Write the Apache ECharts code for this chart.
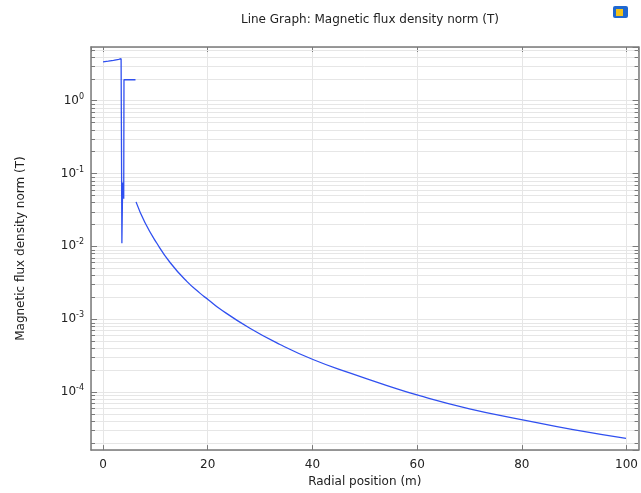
<!DOCTYPE html>
<html>
<head>
<meta charset="utf-8">
<script src="https://cdn.jsdelivr.net/npm/echarts@6/dist/echarts.min.js"></script>
<style>
  html, body { margin: 0; padding: 0; background: #fff; }
  #chart { width: 641px; height: 493px; }
</style>
</head>
<body>
<div id="chart"></div>
<script>
// radial position (m) / magnetic flux density norm (T)
var innerR = [0, 1, 2, 3, 3.45, 3.6, 3.75, 3.95, 4.0, 5.0, 6.2];
var innerB = [3.4, 3.48, 3.57, 3.68, 3.75, 0.011, 0.075, 0.045, 1.93, 1.93, 1.93];
var outerR = [6.3, 8.0, 10.25, 12.8, 16.0, 18.5, 20.1, 22.3, 28.05, 33.8, 40.1, 47.1, 54.1, 60.3, 70.0, 79.9, 89.8, 99.9];
var outerB = [0.0407, 0.0212, 0.0111, 0.0060, 0.0033, 0.00228, 0.00185, 0.00139, 7.5e-4, 4.5e-4, 2.8e-4, 1.83e-4, 1.24e-4, 9.0e-5, 5.9e-5, 4.2e-5, 3.05e-5, 2.32e-5];

var xMin = -2.3, xMax = 102.3;
var yMin = 1.6e-5, yMax = 5.43;
var decades = [-5, -4, -3, -2, -1, 0];
var mantissas = [2, 3, 4, 5, 6, 7, 8, 9];

var minorGrid = [];
decades.forEach(function (d) {
    mantissas.forEach(function (m) {
        var v = m * Math.pow(10, d);
        if (v > yMin && v < yMax) minorGrid.push([0, v]);
    });
});

var frameColor = '#7a7a7a';
var gridColor = '#e6e6e6';
var lineColor = '#3050f0';
var font = 'DejaVu Sans';

function toPairs(xs, ys) {
    return xs.map(function (x, i) { return [x, ys[i]]; });
}

// minor log grid lines + short inner ticks on both sides
function renderMinor(params, api) {
    var y = Math.round(api.coord([0, api.value(1)])[1]) + 0.5;
    var cs = params.coordSys;
    var x0 = cs.x, x1 = cs.x + cs.width;
    return {
        type: 'group',
        children: [
            { type: 'line', shape: { x1: x0, y1: y, x2: x1, y2: y }, style: { stroke: gridColor, lineWidth: 1 } },
            { type: 'line', shape: { x1: x0, y1: y, x2: x0 + 4, y2: y }, style: { stroke: frameColor, lineWidth: 1 } },
            { type: 'line', shape: { x1: x1 - 4, y1: y, x2: x1, y2: y }, style: { stroke: frameColor, lineWidth: 1 } }
        ]
    };
}

function decadeLabel(v) {
    var e = Math.log10(v);
    var r = Math.round(e);
    if (Math.abs(e - r) > 1e-6) return '';
    return '{b|10}{s|' + r + '}';
}

var myChart = echarts.init(document.getElementById('chart'));
var option = {
    animation: false,
    title: {
        text: 'Line Graph: Magnetic flux density norm (T)',
        left: 365,
        top: 9,
        textAlign: 'center',
        textStyle: { fontFamily: font, fontSize: 12, fontWeight: 'normal', color: '#222' }
    },
    graphic: [
        { type: 'rect', left: 613, top: 6, shape: { width: 15, height: 12, r: 2 }, style: { fill: '#1f68d0' } },
        { type: 'rect', left: 616, top: 9, shape: { width: 7, height: 7 }, style: { fill: '#f2c21a' } }
    ],
    grid: { left: 91, right: 2, top: 47, bottom: 42 },
    xAxis: [{
        type: 'value',
        min: xMin,
        max: xMax,
        position: 'bottom',
        name: 'Radial position (m)',
        nameLocation: 'middle',
        nameGap: 25,
        nameTextStyle: { fontFamily: font, fontSize: 12, color: '#222' },
        axisLine: { onZero: false, lineStyle: { color: frameColor, width: 1.5 } },
        axisTick: { inside: true, length: 5, lineStyle: { color: frameColor } },
        axisLabel: {
            margin: 9,
            fontFamily: font, fontSize: 12, color: '#222',
            showMinLabel: false, showMaxLabel: false,
            formatter: function (v) { return v % 20 === 0 ? String(v) : ''; }
        },
        splitLine: { lineStyle: { color: gridColor } }
    }, {
        type: 'value',
        min: xMin,
        max: xMax,
        position: 'top',
        axisLine: { onZero: false, lineStyle: { color: frameColor, width: 1.5 } },
        axisTick: { inside: true, length: 5, lineStyle: { color: frameColor } },
        axisLabel: { show: false },
        splitLine: { show: false }
    }],
    yAxis: [{
        type: 'log',
        logBase: 10,
        min: yMin,
        max: yMax,
        position: 'left',
        name: 'Magnetic flux density norm (T)',
        nameLocation: 'middle',
        nameGap: 64,
        nameTextStyle: { fontFamily: font, fontSize: 12, color: '#222' },
        axisLine: { show: true, onZero: false, lineStyle: { color: frameColor, width: 1.5 } },
        axisTick: { inside: true, length: 6, lineStyle: { color: frameColor } },
        axisLabel: {
            margin: 7,
            showMinLabel: false, showMaxLabel: false,
            formatter: decadeLabel,
            rich: {
                b: { fontFamily: font, fontSize: 12, color: '#222' },
                s: { fontFamily: font, fontSize: 8, color: '#222', padding: [0, 0, 8, 0] }
            }
        },
        splitLine: { lineStyle: { color: gridColor } }
    }, {
        type: 'log',
        logBase: 10,
        min: yMin,
        max: yMax,
        position: 'right',
        axisLine: { show: true, onZero: false, lineStyle: { color: frameColor, width: 1.5 } },
        axisTick: { inside: true, length: 6, lineStyle: { color: frameColor } },
        axisLabel: { show: false },
        splitLine: { show: false }
    }],
    series: [{
        type: 'custom',
        name: 'minor grid',
        silent: true,
        z: 1,
        xAxisIndex: 0,
        yAxisIndex: 0,
        encode: { x: 0, y: 1 },
        renderItem: renderMinor,
        data: minorGrid
    }, {
        type: 'line',
        name: 'inside',
        xAxisIndex: 0,
        yAxisIndex: 0,
        z: 3,
        showSymbol: false,
        lineStyle: { color: lineColor, width: 1.3 },
        data: toPairs(innerR, innerB)
    }, {
        type: 'line',
        name: 'outside',
        xAxisIndex: 0,
        yAxisIndex: 0,
        z: 3,
        smooth: 0.5,
        showSymbol: false,
        lineStyle: { color: lineColor, width: 1.3 },
        data: toPairs(outerR, outerB)
    }]
};
myChart.setOption(option);
</script>
</body>
</html>
